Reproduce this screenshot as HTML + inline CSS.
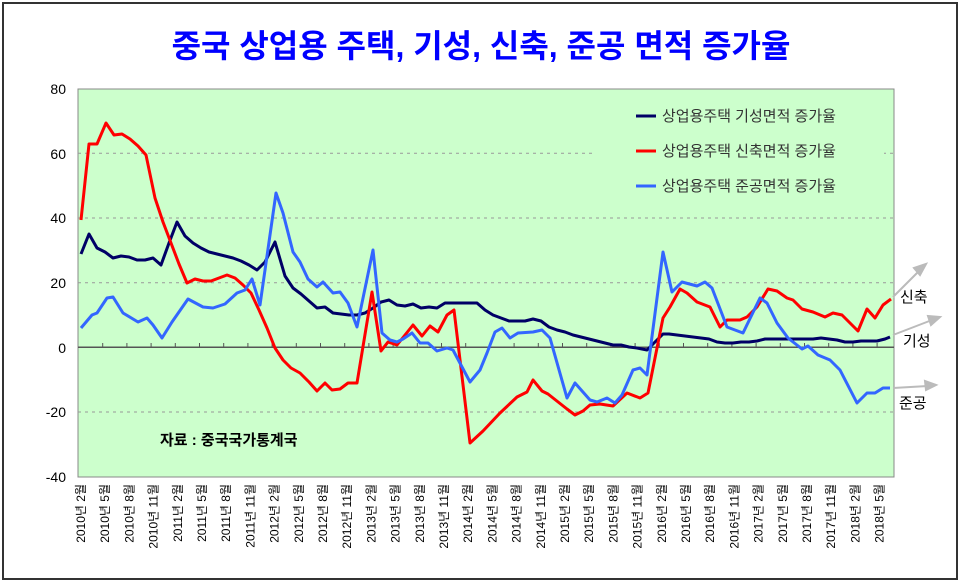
<!DOCTYPE html>
<html><head><meta charset="utf-8"><style>
html,body{margin:0;padding:0;background:#fff;}
svg{display:block;font-family:"Liberation Sans","Noto Sans CJK KR","NanumGothic",sans-serif;}
</style></head><body>
<svg width="961" height="583" viewBox="0 0 961 583" xmlns="http://www.w3.org/2000/svg">
<rect x="3" y="3" width="954" height="576" fill="#fff" stroke="#333" stroke-width="2"/>
<text x="481" y="57" text-anchor="middle" font-size="32" font-weight="bold" fill="#0000ff">중국 상업용 주택, 기성, 신축, 준공 면적 증가율</text>
<rect x="78" y="89" width="816" height="388" fill="#ccffcc" stroke="#888" stroke-width="1"/>
<g stroke="#999" stroke-dasharray="3,4" stroke-width="1">
<line x1="78" y1="153.3" x2="894" y2="153.3"/>
<line x1="78" y1="218" x2="894" y2="218"/>
<line x1="78" y1="282.7" x2="894" y2="282.7"/>
<line x1="78" y1="412" x2="894" y2="412"/>
</g>
<rect x="592" y="100" width="292" height="100" fill="#ccffcc"/>
<line x1="78" y1="347.3" x2="894" y2="347.3" stroke="#555" stroke-width="1.5"/>
<g stroke="#555" stroke-width="1" id="ticks"></g>
<g font-size="14" text-anchor="end" fill="#000">
<text x="66" y="94">80</text><text x="66" y="159">60</text><text x="66" y="223">40</text>
<text x="66" y="288">20</text><text x="66" y="353">0</text><text x="66" y="417">-20</text><text x="66" y="482">-40</text>
</g>
<g id="xl" font-size="12" fill="#000" text-anchor="end"></g>
<polyline fill="none" stroke="#000066" stroke-width="3" stroke-linejoin="round" points="81,254 89,234 97,248 105,252 113,258 121,256 129,257 137,260 145,260 153,258 161,265 169,243 177,222 185,236 193,243 201,248 209,252 217,254 225,256 233,258 241,261 249,265 257,270 265,262 275,242 285,276 293,288 301,294 309,301 317,308 325,307 333,313 341,314 349,315 357,315 365,313 373,308 381,302 389,300 397,305 405,306 413,304 421,308 429,307 437,308 445,303 453,303 461,303 469,303 477,303 485,310 493,315 501,318 509,321 517,321 525,321 533,319 541,321 549,327 557,330 565,332 573,335 581,337 589,339 597,341 605,343 613,345 621,345 629,347 637,348 647,350 653,344 663,334 669,334 677,335 685,336 693,337 701,338 709,339 717,342 725,343 733,343 741,342 749,342 757,341 765,339 773,339 781,339 789,339 797,339 805,339 813,339 821,338 829,339 837,340 845,342 853,342 861,341 869,341 877,341 885,339 890,337"/>
<polyline fill="none" stroke="#ff0000" stroke-width="3" stroke-linejoin="round" points="81,220 89,144 97,144 106,123 114,135 122,134 130,139 138,146 146,155 155,198 163,222 171,243 179,264 187,283 195,279 203,281 211,281 219,278 227,275 235,278 243,285 251,293 259,310 267,328 275,348 283,360 291,368 300,373 309,382 317,391 325,383 332,390 340,389 348,383 357,383 372,292 381,351 388,342 397,345 413,325 422,336 430,326 438,332 447,315 454,310 470,443 483,431 500,413 517,397 527,392 533,380 542,391 548,394 567,409 575,415 583,411 590,405 600,404 613,406 627,393 640,398 648,393 663,318 670,307 680,289 687,293 697,302 710,307 720,327 727,320 740,320 747,317 757,307 768,289 777,291 787,298 793,300 802,309 813,312 825,317 833,313 842,315 858,331 867,309 875,318 883,305 891,299"/>
<polyline fill="none" stroke="#3366ff" stroke-width="3" stroke-linejoin="round" points="81,328 92,315 97,313 107,298 113,297 123,313 138,322 147,318 153,325 162,338 172,322 188,299 203,307 213,308 225,304 237,293 245,290 252,279 260,305 276,193 283,213 293,252 300,262 308,279 317,287 323,282 333,293 340,292 348,303 357,327 373,250 382,333 390,340 397,342 403,339 412,333 420,343 428,343 437,351 447,348 453,350 470,382 480,370 487,353 495,332 502,328 510,338 518,333 533,332 542,330 550,338 567,398 575,383 590,400 597,402 607,398 615,403 622,395 633,370 640,368 647,375 663,252 672,292 682,282 697,286 705,282 712,288 727,327 743,333 760,298 767,303 777,323 788,338 802,349 808,346 818,355 830,360 840,370 857,403 867,393 875,393 883,388 890,388"/>
<g font-size="15" fill="#333">
<line x1="636" y1="116" x2="656" y2="116" stroke="#000066" stroke-width="3"/><text x="662" y="121">상업용주택 기성면적 증가율</text>
<line x1="636" y1="151" x2="656" y2="151" stroke="#ff0000" stroke-width="3"/><text x="662" y="156">상업용주택 신축면적 증가율</text>
<line x1="636" y1="186" x2="656" y2="186" stroke="#3366ff" stroke-width="3"/><text x="662" y="191">상업용주택 준공면적 증가율</text>
</g>
<text x="160" y="445" font-size="15" font-weight="bold" fill="#000">자료 : 중국국가통계국</text>
<g stroke="#bbb" stroke-width="2" fill="#bbb">
<line x1="893" y1="297" x2="920" y2="270"/><polygon points="926,264 914,268 920,275"/>
<line x1="893" y1="335" x2="932" y2="320"/><polygon points="940,317 928,316 931,325"/>
<line x1="893" y1="388" x2="928" y2="386"/><polygon points="936,385 925,381 926,390"/>
</g>
<g font-size="15" fill="#000">
<text x="900" y="302">신축</text><text x="903" y="346">기성</text><text x="899" y="408">준공</text>
</g>
<script>
var t=document.getElementById('ticks'),xl=document.getElementById('xl'),ns='http://www.w3.org/2000/svg';
for(var k=0;k<33;k++){var x=102.7+24.2*k;var l=document.createElementNS(ns,'line');l.setAttribute('x1',x);l.setAttribute('x2',x);l.setAttribute('y1',343);l.setAttribute('y2',347);t.appendChild(l);}
var m=[2,5,8,11],k=0;
for(var y=2010;y<=2018;y++)for(var j=0;j<4;j++){if(y==2018&&j>1)break;var x=81+24.2*k;var tx=document.createElementNS(ns,'text');tx.setAttribute('transform','translate('+(x+4)+',484) rotate(-90)');tx.textContent=y+'년 '+m[j]+'월';xl.appendChild(tx);k++;}
</script>
</svg>
</body></html>
